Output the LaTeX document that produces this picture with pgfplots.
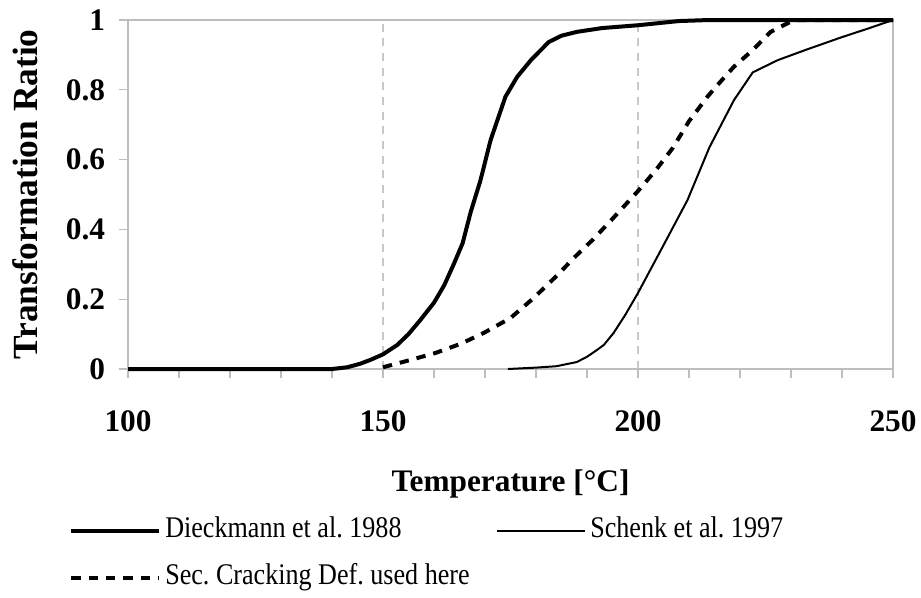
\documentclass[border=0pt]{standalone}
\usepackage{fontspec}
\setmainfont{Liberation Serif}
\newfontfamily\legfont[FakeStretch=0.87]{Liberation Serif}
\usepackage{pgfplots}
\pgfplotsset{compat=1.18}
\frenchspacing

\definecolor{framegray}{RGB}{190,190,190}
\definecolor{gridgray}{RGB}{200,200,200}

% Transformation ratio of kerogen vs. temperature
\pgfplotstableread{
T     TR
100   0
140   0
143   0.005
145.5 0.015
147.5 0.026
150   0.042
152.8 0.069
155   0.10
157.3 0.14
160   0.19
162   0.24
163.8 0.298
165.6 0.36
167.2 0.45
169.1 0.54
171.1 0.656
174   0.78
176.3 0.837
179   0.885
182.5 0.937
185   0.955
188   0.966
193   0.977
200   0.985
208   0.997
214   1
250   1
}\dieckmann

\pgfplotstableread{
T     TR
174.5 0
180   0.004
184   0.008
188   0.02
190   0.035
192   0.055
193.3 0.069
195.2 0.103
197.5 0.155
200   0.218
204.5 0.341
209.7 0.484
214   0.635
218.8 0.77
222.5 0.85
227.4 0.885
233   0.915
239.8 0.95
245   0.975
250   1
}\schenk

\pgfplotstableread{
T     TR
150   0.005
155.4 0.026
160.3 0.046
165.2 0.072
169.7 0.103
175   0.146
179.5 0.203
184.2 0.269
187.4 0.318
191.1 0.37
194.6 0.424
200   0.51
203.5 0.57
206.8 0.633
210   0.71
213.6 0.78
215.6 0.814
218.8 0.866
222.5 0.914
226   0.966
230.6 1.0
250   1
}\seccrack

\begin{document}
\begin{tikzpicture}
\path[use as bounding box] (0pt,-447.75pt) rectangle (690.75pt,0pt);
\begin{axis}[
  at={(96pt,-15pt)}, anchor=north west,
  scale only axis,
  width=573.75pt, height=261.75pt,
  xmin=100, xmax=250, ymin=0, ymax=1,
  clip=false,
  axis line style={framegray, line width=0.8pt},
  tick align=outside,
  major tick length=7pt, minor tick length=7pt,
  tick style={framegray, line width=0.8pt},
  xtick={100,150,200,250},
  xticklabels={100,150,200,250},
  minor xtick={110,120,130,140,160,170,180,190,210,220,230,240},
  ytick={0,0.2,0.4,0.6,0.8,1},
  yticklabels={0,0.2,0.4,0.6,0.8,1},
  xtick pos=lower, ytick pos=left,
  xmajorgrids,
  major grid style={gridgray, line width=0.8pt, dash pattern=on 6pt off 5pt},
  ticklabel style={font=\fontsize{23.5pt}{27pt}\selectfont\bfseries, text=black},
  xticklabel style={anchor=base, inner sep=0pt, yshift=-40pt},
  yticklabel style={anchor=east, inner sep=0pt, xshift=-10pt},
  xlabel={Temperature [°C]},
  ylabel={Transformation Ratio},
  every axis x label/.style={at={(axis description cs:0.5,-0.3524)}, anchor=base,
    font=\fontsize{23.5pt}{28pt}\selectfont\bfseries},
  every axis y label/.style={at={(axis description cs:-0.1346,0.5)}, anchor=center, rotate=90,
    font=\fontsize{26.5pt}{30pt}\selectfont\bfseries},
  legend columns=2,
  legend style={at={(-0.0771,-0.4212)}, anchor=north west, draw=none, fill=none,
    inner sep=0pt, font=\legfont\fontsize{22.5pt}{26pt}\selectfont,
    nodes={inner sep=0pt, text height=15.75pt, text depth=5.6pt},
    row sep=14pt, column sep=3pt,
    /tikz/every even column/.append style={column sep=20pt}},
  legend cell align=left,
  legend image code/.code={\draw[#1] (0pt,0pt) -- (66pt,0pt);},
]
\addplot[black, line width=3pt, line join=round] table[x=T, y=TR] {\dieckmann};
\addlegendentry{Dieckmann et al. 1988}
\addplot[black, line width=1.5pt, line join=round] table[x=T, y=TR] {\schenk};
\addlegendentry{Schenk et al. 1997}
\addplot[black, line width=3pt, dash pattern=on 7pt off 6pt] table[x=T, y=TR] {\seccrack};
\addlegendentry{Sec. Cracking Def. used here}
\end{axis}
\end{tikzpicture}
\end{document}
